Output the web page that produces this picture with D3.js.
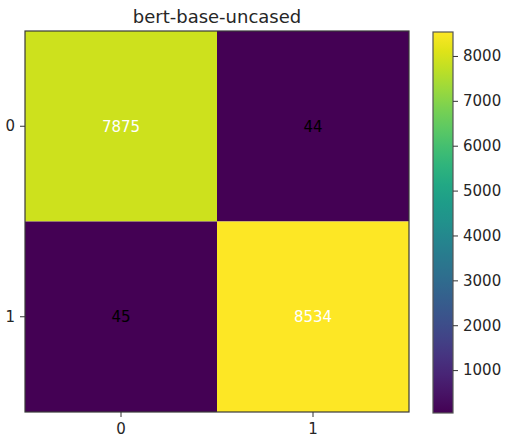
<!DOCTYPE html>
<html>
<head>
<meta charset="utf-8">
<script src="https://cdn.jsdelivr.net/npm/d3@7"></script>
<style>
  html, body { margin: 0; padding: 0; background: #ffffff; }
  svg { display: block; font-family: "DejaVu Sans", sans-serif; }
</style>
</head>
<body>
<svg id="chart" width="506" height="436"></svg>
<script>
// Confusion matrix for bert-base-uncased
const title = "bert-base-uncased";
const rowLabels = ["0", "1"];
const colLabels = ["0", "1"];
const row0 = [7875, 44];
const row1 = [45, 8534];
const colorbarTicks = [1000, 2000, 3000, 4000, 5000, 6000, 7000, 8000];

const matrix = [row0, row1];
const cells = [];
matrix.forEach((row, i) => row.forEach((v, j) => cells.push({ r: rowLabels[i], c: colLabels[j], v })));

const svg = d3.select("#chart");
const plot = { left: 25, top: 31, right: 409, bottom: 412 };
const cbar = { left: 433, right: 453, top: 32, bottom: 413 };

const vmin = d3.min(cells, d => d.v);
const vmax = d3.max(cells, d => d.v);
const color = d3.scaleSequential(d3.interpolateViridis).domain([vmin, vmax]);

const x = d3.scaleBand().domain(colLabels).range([plot.left, plot.right]);
const y = d3.scaleBand().domain(rowLabels).range([plot.top, plot.bottom]);

// Title
svg.append("text")
  .attr("x", (plot.left + plot.right) / 2)
  .attr("y", 23)
  .attr("text-anchor", "middle")
  .attr("font-size", 18)
  .attr("fill", "#262626")
  .text(title);

// Heatmap cells
svg.append("g").selectAll("rect").data(cells).join("rect")
  .attr("x", d => x(d.c))
  .attr("y", d => y(d.r))
  .attr("width", x.bandwidth())
  .attr("height", y.bandwidth())
  .attr("fill", d => color(d.v));

// Cell annotations
svg.append("g").selectAll("text").data(cells).join("text")
  .attr("x", d => x(d.c) + x.bandwidth() / 2)
  .attr("y", d => y(d.r) + y.bandwidth() / 2)
  .attr("dy", "0.36em")
  .attr("text-anchor", "middle")
  .attr("font-size", 15)
  .attr("fill", d => (d.v - vmin) / (vmax - vmin) > 0.5 ? "#ffffff" : "#000000")
  .text(d => d.v);

// Frame
svg.append("rect")
  .attr("x", plot.left).attr("y", plot.top)
  .attr("width", plot.right - plot.left).attr("height", plot.bottom - plot.top)
  .attr("fill", "none").attr("stroke", "#3a3a3a").attr("stroke-width", 1.2);

// Axes
const xAxis = svg.append("g")
  .attr("transform", `translate(0,${plot.bottom})`)
  .call(d3.axisBottom(x).tickSize(5).tickPadding(6));
const yAxis = svg.append("g")
  .attr("transform", `translate(${plot.left},0)`)
  .call(d3.axisLeft(y).tickSize(5).tickPadding(5));
[xAxis, yAxis].forEach(g => {
  g.select(".domain").remove();
  g.selectAll("line").attr("stroke", "#333");
  g.selectAll("text").attr("font-size", 15).attr("fill", "#262626").attr("font-family", "DejaVu Sans, sans-serif");
});

// Colorbar gradient
const defs = svg.append("defs");
const grad = defs.append("linearGradient")
  .attr("id", "cbgrad").attr("x1", 0).attr("y1", 1).attr("x2", 0).attr("y2", 0);
d3.range(0, 1.0001, 0.05).forEach(t => {
  grad.append("stop").attr("offset", t).attr("stop-color", d3.interpolateViridis(t));
});

svg.append("rect")
  .attr("x", cbar.left).attr("y", cbar.top)
  .attr("width", cbar.right - cbar.left).attr("height", cbar.bottom - cbar.top)
  .attr("fill", "url(#cbgrad)")
  .attr("stroke", "#555").attr("stroke-width", 1.2);

const cScale = d3.scaleLinear().domain([vmin, vmax]).range([cbar.bottom, cbar.top]);
const cAxis = svg.append("g")
  .attr("transform", `translate(${cbar.right},0)`)
  .call(d3.axisRight(cScale).tickValues(colorbarTicks).tickFormat(d3.format("d")).tickSize(5).tickPadding(5));
cAxis.select(".domain").remove();
cAxis.selectAll("line").attr("stroke", "#333");
cAxis.selectAll("text").attr("font-size", 15).attr("fill", "#262626").attr("font-family", "DejaVu Sans, sans-serif");
</script>
</body>
</html>
